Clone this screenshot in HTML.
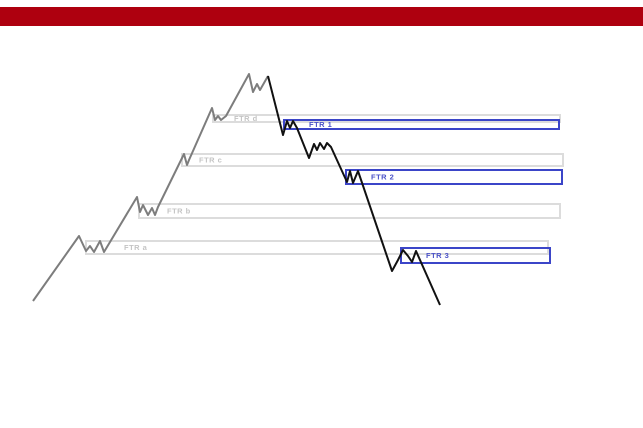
<!DOCTYPE html>
<html><head><meta charset="utf-8"><style>
html,body{margin:0;padding:0;background:#fff;width:643px;height:428px;overflow:hidden}
svg{display:block}
text{font-family:"Liberation Sans",sans-serif;font-weight:bold;font-size:7.5px;letter-spacing:0.5px}
</style></head><body>
<svg width="643" height="428">
<rect x="0" y="7" width="643" height="19" fill="#ae000f"/>
<g id="zones"></g>
<g id="lines"></g>
</svg>
<script>
var zoneLabels=["FTR d","FTR c","FTR b","FTR a","FTR 1","FTR 2","FTR 3"];
var zoneX0=[213,182,139,86,284,346,401];
var zoneX1=[560,563,560,548,559,562,550];
var zoneY0=[115,154,204,241,120,170,248];
var zoneY1=[122,166,218,254,129,184,263];
var zoneKind=["g","g","g","g","b","b","b"];
var upX=[33,79,86,90,94,100,104,137,140,143,148,152,155,158,184,187,189,212,215,218,221,226,249,253,257,260,268];
var upY=[301,236,251,246,252,241,252,197,212,205,215,208,215,207,154,165,160,108,120,116,120,116,74,92,84,90,76];
var dnX=[268,283,287,290,293,297,309,314,317,320,324,327,331,347,350,353,358,392,398,403,408,412,416,440];
var dnY=[76,135,121,128,121,128,158,144,150,143,149,143,147,182,171,183,171,271,260,250,256,262,251,305];
var labelOff=[21,17,28,38,25,25,25];
var NS="http://www.w3.org/2000/svg";
var zg=document.getElementById('zones');
for(var i=0;i<zoneLabels.length;i++){
  var b=zoneKind[i]==="b";
  var r=document.createElementNS(NS,'rect');
  r.setAttribute('x',zoneX0[i]);r.setAttribute('y',zoneY0[i]);
  r.setAttribute('width',zoneX1[i]-zoneX0[i]);r.setAttribute('height',zoneY1[i]-zoneY0[i]);
  r.setAttribute('fill','none');r.setAttribute('stroke',b?'#3b45c8':'#dcdcdc');r.setAttribute('stroke-width',2);
  
  
  zg.appendChild(r);
  var t=document.createElementNS(NS,'text');
  t.setAttribute('x',zoneX0[i]+labelOff[i]);
  t.setAttribute('y',(zoneY0[i]+zoneY1[i])/2+2.5);
  t.setAttribute('fill',b?'#4a52c8':'#c4c4c4');
  t.textContent=zoneLabels[i];
  
  
  zg.appendChild(t);
}
var lg=document.getElementById('lines');
function pl(xs,ys,c,nm){
  var p=document.createElementNS(NS,'polyline');
  p.setAttribute('points',xs.map(function(x,i){return x+','+ys[i]}).join(' '));
  p.setAttribute('fill','none');p.setAttribute('stroke',c);p.setAttribute('stroke-width',2);
  p.setAttribute('stroke-linejoin','round');
  
  
  lg.appendChild(p);
}
pl(upX,upY,'#7d7d7d','uptrend-line');
pl(dnX,dnY,'#111','downtrend-line');
</script>
</body></html>
